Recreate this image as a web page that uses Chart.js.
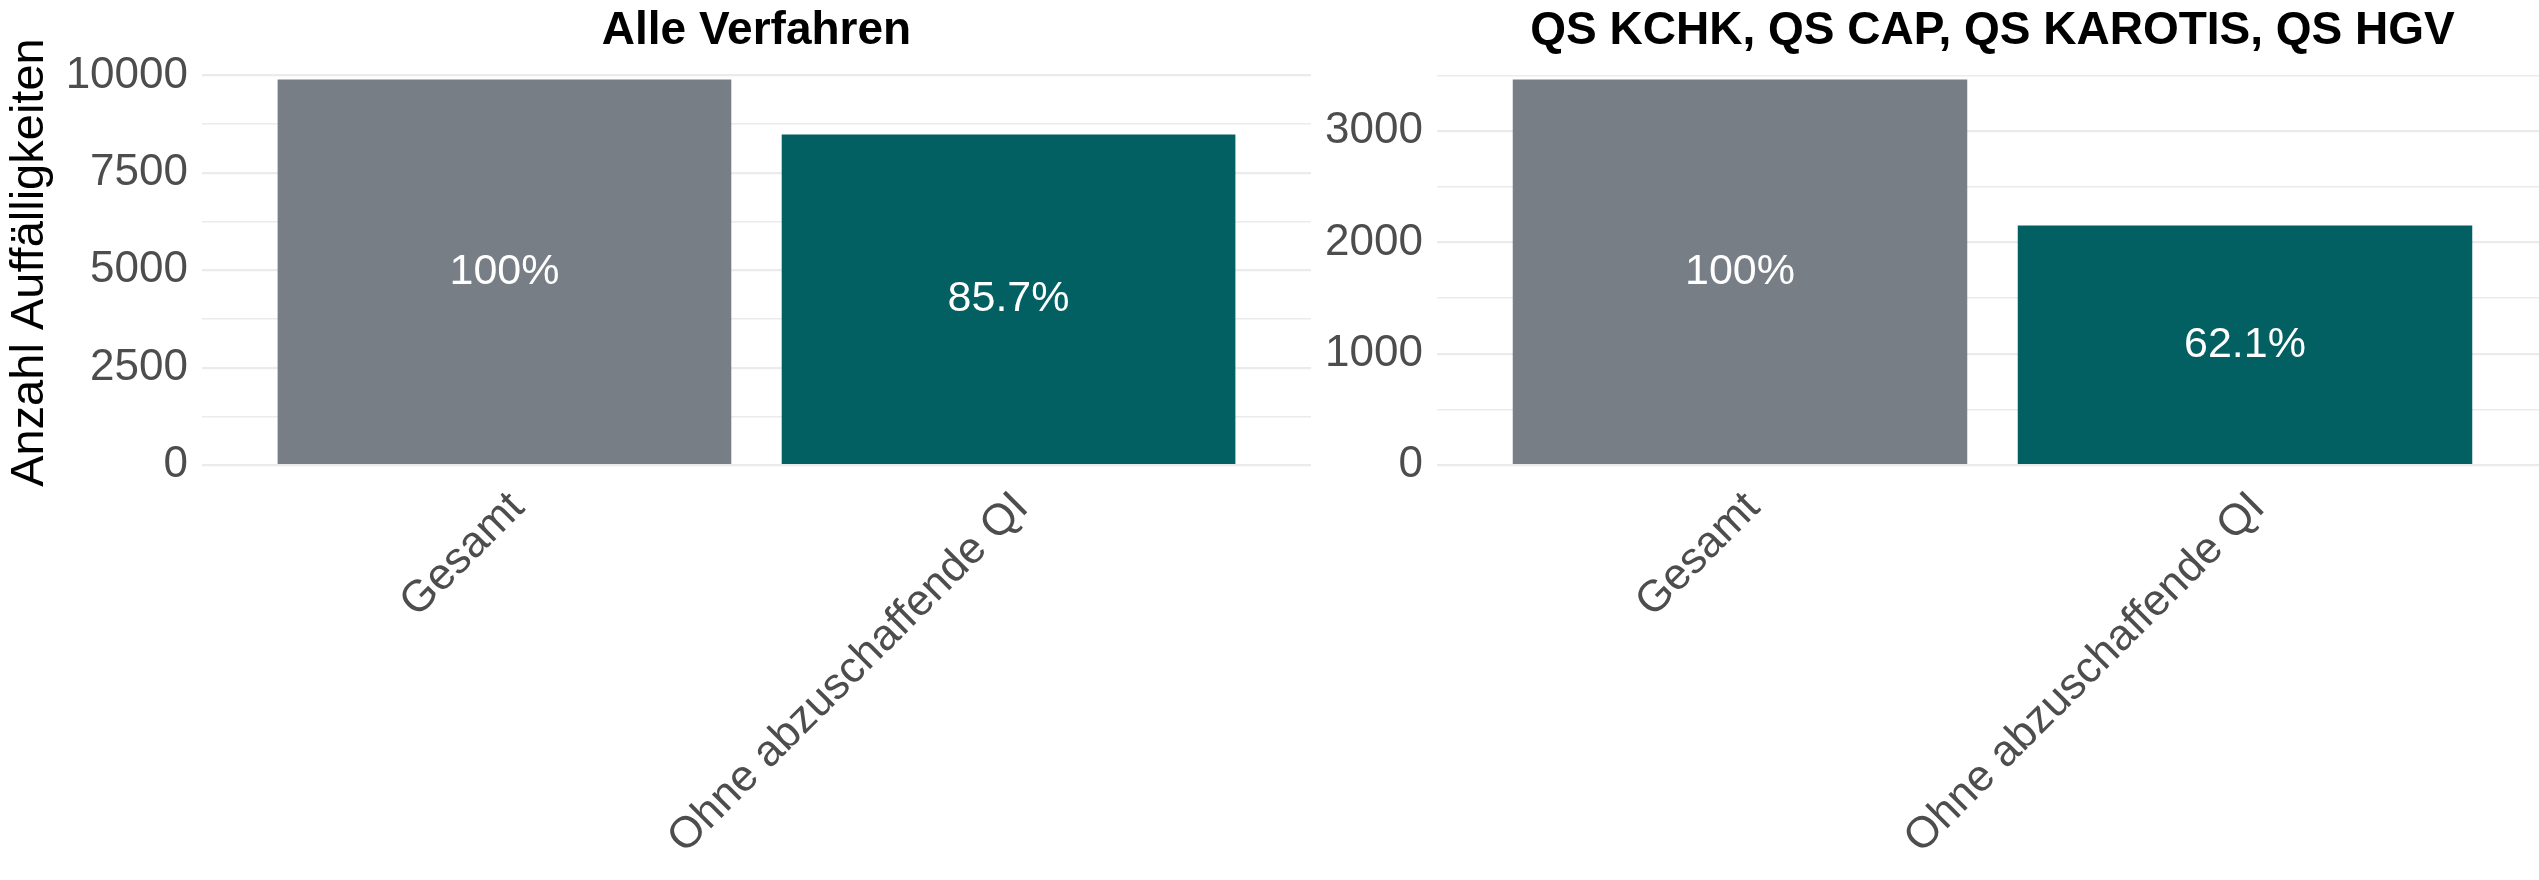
<!DOCTYPE html>
<html>
<head>
<meta charset="utf-8">
<script src="https://cdn.jsdelivr.net/npm/chart.js@4/dist/chart.umd.min.js"></script>
<style>
  html, body { margin: 0; padding: 0; background: #fff; overflow: hidden; }
  #wrap { position: relative; width: 2539px; height: 880px; overflow: hidden; }
  canvas { position: absolute; top: 0; }
  #alleChart { left: 0; }
  #qsChart { left: 1311px; }
</style>
</head>
<body>
<div id="wrap">
  <canvas id="alleChart" width="1311" height="880"></canvas>
  <canvas id="qsChart" width="1237" height="880"></canvas>
</div>
<script>
// categories shared by both panels
const categories = ['Gesamt', 'Ohne abzuschaffende QI'];
const barColors = ['#787E86', '#025F62'];

// left panel: Alle Verfahren
const alleValues = [9900, 8485];
const alleLabels = ['100%', '85.7%'];
const alleTicks = [0, 2500, 5000, 7500, 10000];

// right panel: QS KCHK, QS CAP, QS KAROTIS, QS HGV
const qsValues = [3465, 2152];
const qsLabels = ['100%', '62.1%'];
const qsTicks = [0, 1000, 2000, 3000];

const FONT = '"Liberation Sans", Arial, sans-serif';

// draws the percentage text in the middle of each bar
const barLabels = {
    id: 'barLabels',
    afterDatasetsDraw(chart, args, opts) {
        const ctx = chart.ctx;
        const meta = chart.getDatasetMeta(0);
        ctx.save();
        ctx.font = '43px ' + FONT;
        ctx.fillStyle = '#ffffff';
        ctx.textAlign = 'center';
        ctx.textBaseline = 'middle';
        meta.data.forEach((bar, i) => {
            ctx.fillText(opts.labels[i], bar.x, (bar.y + bar.base) / 2);
        });
        ctx.restore();
    }
};

function makePanel(canvasId, title, values, labels, majorTicks, yTitle, yWidth) {
    const yMax = Math.max(...values) * 1.05;
    const half = (majorTicks[1] - majorTicks[0]) / 2;
    // major breaks plus the minor lines half way between them
    const gridValues = [];
    majorTicks.forEach(v => {
        gridValues.push(v);
        if (v + half <= yMax) gridValues.push(v + half);
    });

    return new Chart(document.getElementById(canvasId), {
        type: 'bar',
        data: {
            datasets: [{
                data: categories.map((c, i) => ({ x: i + 1, y: values[i] })),
                backgroundColor: barColors,
                barPercentage: 0.9,
                categoryPercentage: 1.0
            }]
        },
        options: {
            responsive: false,
            devicePixelRatio: 1,
            animation: false,
            layout: { padding: 0 },
            plugins: {
                legend: { display: false },
                tooltip: { enabled: false },
                title: {
                    display: true,
                    text: title,
                    fullSize: false,
                    color: '#000000',
                    font: { family: FONT, size: 46, weight: 'bold' },
                    padding: { top: 4, bottom: 1 }
                },
                barLabels: { labels: labels }
            },
            scales: {
                x: {
                    type: 'linear',
                    offset: false,
                    min: 0.4,
                    max: categories.length + 0.6,
                    grid: { display: false, offset: false },
                    border: { display: false },
                    afterBuildTicks: (scale) => {
                        scale.ticks = categories.map((c, i) => ({ value: i + 1 }));
                    },
                    afterFit: (scale) => { scale.height = 415; },
                    ticks: {
                        autoSkip: false,
                        minRotation: 45,
                        maxRotation: 45,
                        padding: 9,
                        labelOffset: 13,
                        color: '#4D4D4D',
                        font: { family: FONT, size: 44 },
                        callback: (value) => categories[value - 1] || ''
                    }
                },
                y: {
                    type: 'linear',
                    min: 0,
                    max: yMax,
                    border: { display: false },
                    afterBuildTicks: (scale) => {
                        scale.ticks = gridValues.map(v => ({ value: v }));
                    },
                    afterFit: (scale) => { scale.width = yWidth; },
                    grid: {
                        drawTicks: false,
                        color: '#EBEBEB',
                        lineWidth: (ctx) => (ctx.tick && majorTicks.includes(ctx.tick.value)) ? 2.2 : 1.6
                    },
                    ticks: {
                        autoSkip: false,
                        padding: 14,
                        color: '#4D4D4D',
                        font: { family: FONT, size: 44 },
                        callback: (value) => majorTicks.includes(value) ? String(value) : ''
                    },
                    title: {
                        display: !!yTitle,
                        text: yTitle,
                        color: '#000000',
                        font: { family: FONT, size: 47 },
                        padding: { top: 2, bottom: 0 }
                    }
                }
            }
        },
        plugins: [barLabels]
    });
}

makePanel('alleChart', 'Alle Verfahren', alleValues, alleLabels, alleTicks, 'Anzahl Auffälligkeiten', 202);
makePanel('qsChart', 'QS KCHK, QS CAP, QS KAROTIS, QS HGV', qsValues, qsLabels, qsTicks, '', 126);
</script>
</body>
</html>
